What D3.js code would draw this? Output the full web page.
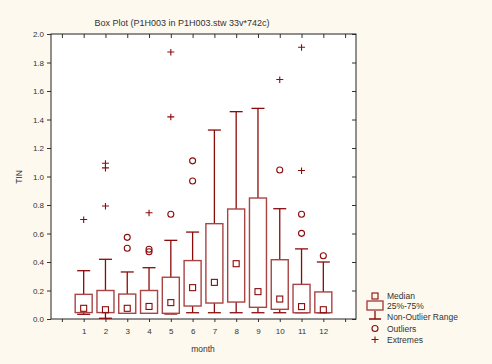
<!DOCTYPE html>
<html>
    <head>
        <meta charset="utf-8">
        <title>Box Plot</title>
        <script src="https://cdn.jsdelivr.net/npm/d3@7"></script>
        <style>
            body { margin: 0; background: #fdf9ee; }
            svg { display: block; font-family: "Liberation Sans", Arial, sans-serif; }
            .tick text { font-size: 8px; fill: #333; }
        </style>
    </head>
    <body>
        <div id="chart"></div>
        <script>
            var width = 492, height = 364;
            var padL = 51, padR = 356, padT = 34, padB = 319;

            // values
            const months = [1, 2, 3, 4, 5, 6, 7, 8, 9, 10, 11, 12];
            const median = [0.075, 0.065, 0.075, 0.088, 0.115, 0.22, 0.257, 0.388, 0.192, 0.14, 0.087, 0.065];
            const q1 = [0.045, 0.045, 0.04, 0.04, 0.04, 0.091, 0.112, 0.119, 0.082, 0.068, 0.044, 0.044];
            const q3 = [0.173, 0.20, 0.175, 0.20, 0.293, 0.41, 0.669, 0.772, 0.849, 0.416, 0.243, 0.19];
            const whiskerLo = [0.033, 0.005, 0.04, 0.04, 0.035, 0.044, 0.044, 0.044, 0.044, 0.044, 0.044, 0.044];
            const whiskerHi = [0.339, 0.419, 0.33, 0.36, 0.552, 0.61, 1.326, 1.455, 1.478, 0.774, 0.492, 0.40];
            const outliers = [[], [], [0.573, 0.496], [0.49, 0.472], [0.735], [1.11, 0.968], [], [], [], [1.046], [0.735, 0.601], [0.444]];
            const extremes = [[0.695], [1.09, 1.057, 0.79], [], [0.742], [1.87, 1.415], [], [], [], [], [1.677], [1.904, 1.039], []];
            const yTicks = [0, 0.2, 0.4, 0.6, 0.8, 1.0, 1.2, 1.4, 1.6, 1.8, 2.0];
            const xTicks = [0, 1, 2, 3, 4, 5, 6, 7, 8, 9, 10, 11, 12, 13];
            const legendItems = ["Median", "25%-75%", "Non-Outlier Range", "Outliers", "Extremes"];

            var dark = "#8b0a0a", boxCol = "#a94444";

            var svg = d3.select("#chart").append("svg")
                .attr("width", width).attr("height", height);

            svg.append("rect").attr("width", width).attr("height", height).attr("fill", "#fdf9ee");
            svg.append("rect")
                .attr("x", padL).attr("y", padT)
                .attr("width", padR - padL).attr("height", padB - padT)
                .attr("fill", "#fff");

            var x = d3.scaleLinear().domain([-0.5, 13.5]).range([padL, padR]);
            var y = d3.scaleLinear().domain([0, 2]).range([padB, padT]);

            var fmt = d3.format(".1f");

            //Axes
            svg.append("g")
                .attr("transform", "translate(" + padL + ",0)")
                .call(d3.axisLeft(y).tickValues(yTicks).tickFormat(fmt).tickSize(4).tickPadding(3))
                .call(g => g.select(".domain").remove());
            svg.append("g")
                .attr("transform", "translate(" + padR + ",0)")
                .call(d3.axisLeft(y).tickValues(yTicks).tickFormat("").tickSize(4))
                .call(g => g.select(".domain").remove());
            svg.append("g")
                .attr("transform", "translate(0," + padB + ")")
                .call(d3.axisBottom(x).tickValues(xTicks).tickSize(3).tickPadding(6)
                    .tickFormat(d => (d >= 1 && d <= 12) ? d : ""))
                .call(g => g.select(".domain").remove());
            svg.append("g")
                .attr("transform", "translate(0," + padT + ")")
                .call(d3.axisBottom(x).tickValues(xTicks).tickSize(4).tickFormat(""))
                .call(g => g.select(".domain").remove());

            svg.selectAll(".tick line").attr("stroke", "#333");

            svg.append("rect")
                .attr("x", padL).attr("y", padT)
                .attr("width", padR - padL).attr("height", padB - padT)
                .attr("fill", "none").attr("stroke", "#222").attr("stroke-width", 1);

            var boxW = 17, capW = 13, sq = 6;

            var boxes = svg.selectAll("g.box")
                .data(months)
                .enter().append("g")
                .attr("class", "box");

            // whiskers
            boxes.append("line")
                .attr("x1", (d, i) => x(d)).attr("x2", (d, i) => x(d))
                .attr("y1", (d, i) => y(q3[i])).attr("y2", (d, i) => y(whiskerHi[i]))
                .attr("stroke", dark).attr("stroke-width", 1.3);
            boxes.append("line")
                .attr("x1", (d, i) => x(d) - capW / 2).attr("x2", (d, i) => x(d) + capW / 2)
                .attr("y1", (d, i) => y(whiskerHi[i])).attr("y2", (d, i) => y(whiskerHi[i]))
                .attr("stroke", dark).attr("stroke-width", 1.3);
            boxes.append("line")
                .attr("x1", (d, i) => x(d)).attr("x2", (d, i) => x(d))
                .attr("y1", (d, i) => y(q1[i])).attr("y2", (d, i) => y(whiskerLo[i]))
                .attr("stroke", dark).attr("stroke-width", 1.3);
            boxes.append("line")
                .attr("x1", (d, i) => x(d) - capW / 2).attr("x2", (d, i) => x(d) + capW / 2)
                .attr("y1", (d, i) => y(whiskerLo[i])).attr("y2", (d, i) => y(whiskerLo[i]))
                .attr("stroke", dark).attr("stroke-width", 1.3);

            // 25%-75% box
            boxes.append("rect")
                .attr("x", d => x(d) - boxW / 2)
                .attr("y", (d, i) => y(q3[i]))
                .attr("width", boxW)
                .attr("height", (d, i) => y(q1[i]) - y(q3[i]))
                .attr("fill", "#fff").attr("stroke", boxCol).attr("stroke-width", 1.4);

            // median
            boxes.append("rect")
                .attr("x", d => x(d) - sq / 2)
                .attr("y", (d, i) => y(median[i]) - sq / 2)
                .attr("width", sq).attr("height", sq)
                .attr("fill", "none").attr("stroke", dark).attr("stroke-width", 1.1);

            // outliers and extremes
            boxes.each(function (d, i) {
                var g = d3.select(this);
                g.selectAll("circle").data(outliers[i]).enter().append("circle")
                    .attr("cx", x(d)).attr("cy", v => y(v)).attr("r", 3)
                    .attr("fill", "none").attr("stroke", dark).attr("stroke-width", 1.1);
                g.selectAll("path.ext").data(extremes[i]).enter().append("path")
                    .attr("class", "ext")
                    .attr("d", v => "M" + (x(d) - 3.5) + "," + (y(v) - 0.5) + "H" + (x(d) + 3.5) +
                        "M" + x(d) + "," + (y(v) - 3.5) + "V" + (y(v) + 3))
                    .attr("stroke", dark).attr("stroke-width", 1.1).attr("fill", "none");
            });

            // titles
            svg.append("text")
                .attr("x", 182).attr("y", 26)
                .attr("text-anchor", "middle")
                .attr("font-size", 9).attr("fill", "#333")
                .text("Box Plot (P1H003 in P1H003.stw 33v*742c)");
            svg.append("text")
                .attr("x", 203).attr("y", 352)
                .attr("text-anchor", "middle")
                .attr("font-size", 8.5).attr("fill", "#333")
                .text("month");
            svg.append("text")
                .attr("transform", "translate(22,177) rotate(-90)")
                .attr("text-anchor", "middle")
                .attr("font-size", 8.5).attr("fill", "#333")
                .text("TIN");

            // legend
            var lx = 375, ly = [296, 306, 317, 328.5, 340];
            var legend = svg.append("g");
            legend.append("rect").attr("x", lx - 3).attr("y", ly[0] - 3).attr("width", 6).attr("height", 6)
                .attr("fill", "none").attr("stroke", dark).attr("stroke-width", 1.1);
            legend.append("rect").attr("x", lx - 8).attr("y", ly[1] - 5).attr("width", 16).attr("height", 9)
                .attr("fill", "none").attr("stroke", boxCol).attr("stroke-width", 1.4);
            legend.append("path")
                .attr("d", "M" + lx + "," + (ly[2] - 6) + "V" + (ly[2] + 2) + "M" + (lx - 6) + "," + (ly[2] + 2) + "H" + (lx + 6))
                .attr("stroke", dark).attr("stroke-width", 1.3).attr("fill", "none");
            legend.append("circle").attr("cx", lx).attr("cy", ly[3]).attr("r", 3)
                .attr("fill", "none").attr("stroke", dark).attr("stroke-width", 1.1);
            legend.append("path")
                .attr("d", "M" + (lx - 3.5) + "," + (ly[4] - 0.5) + "H" + (lx + 3.5) + "M" + lx + "," + (ly[4] - 3.5) + "V" + (ly[4] + 3))
                .attr("stroke", dark).attr("stroke-width", 1.1).attr("fill", "none");
            legend.selectAll("text").data(legendItems).enter().append("text")
                .attr("x", 387).attr("y", (d, i) => ly[i] + 3)
                .attr("font-size", 8.5).attr("fill", "#333")
                .text(d => d);
        </script>
    </body>
</html>
